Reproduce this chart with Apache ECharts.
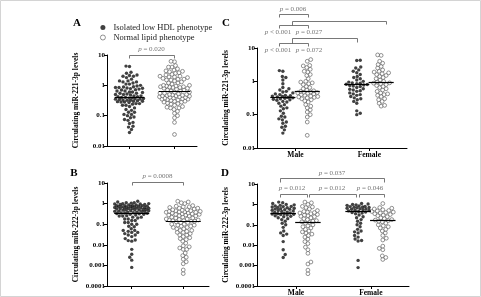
<!DOCTYPE html>
<html>
<head>
<meta charset="utf-8">
<script src="https://cdn.jsdelivr.net/npm/echarts@6/dist/echarts.min.js"></script>
<style>
  html, body { margin: 0; padding: 0; background: #fff; }
  #main { width: 481px; height: 297px; }
</style>
</head>
<body>
<div id="main"></div>
<script>
// circulating miR levels (one value per subject)
const male221Low = [2.1, 2.0, 1.4, 1.3, 1.1, 0.85, 0.65, 0.6, 0.55, 0.5, 0.48, 0.45, 0.42, 0.4, 0.38, 0.37, 0.36, 0.35, 0.34, 0.33, 0.32, 0.31, 0.3, 0.29, 0.28, 0.27, 0.25, 0.24, 0.22, 0.2, 0.18, 0.16, 0.15, 0.13, 0.11, 0.09, 0.085, 0.075, 0.07, 0.06, 0.055, 0.045, 0.042, 0.035, 0.028]
const male221Norm = [4.5, 4.0, 3.0, 2.9, 2.6, 2.3, 2.0, 1.9, 1.6, 1.5, 1.2, 1.0, 0.95, 0.9, 0.85, 0.8, 0.7, 0.65, 0.6, 0.55, 0.52, 0.5, 0.48, 0.47, 0.46, 0.45, 0.44, 0.42, 0.4, 0.38, 0.36, 0.35, 0.34, 0.33, 0.32, 0.3, 0.28, 0.26, 0.24, 0.2, 0.18, 0.16, 0.14, 0.12, 0.1, 0.085, 0.06, 0.024]
const female221Low = [4.3, 4.2, 2.7, 2.5, 2.2, 2.0, 1.8, 1.6, 1.4, 1.3, 1.2, 1.1, 1.0, 0.95, 0.9, 0.88, 0.85, 0.82, 0.8, 0.78, 0.75, 0.72, 0.7, 0.65, 0.6, 0.58, 0.55, 0.52, 0.5, 0.45, 0.42, 0.4, 0.38, 0.35, 0.32, 0.3, 0.28, 0.25, 0.22, 0.13, 0.11, 0.1]
const female221Norm = [6.2, 6.0, 4.0, 3.5, 3.2, 2.8, 2.5, 2.2, 2.0, 1.9, 1.8, 1.7, 1.6, 1.5, 1.4, 1.3, 1.2, 1.1, 1.0, 0.95, 0.9, 0.88, 0.85, 0.8, 0.75, 0.7, 0.65, 0.6, 0.55, 0.5, 0.45, 0.42, 0.4, 0.38, 0.35, 0.3, 0.28, 0.25, 0.22, 0.19, 0.18]

const male222Low = [1.3, 1.2, 1.1, 1.0, 0.95, 0.9, 0.85, 0.8, 0.78, 0.75, 0.7, 0.68, 0.65, 0.62, 0.6, 0.58, 0.55, 0.52, 0.5, 0.48, 0.45, 0.42, 0.4, 0.38, 0.36, 0.35, 0.34, 0.33, 0.32, 0.3, 0.28, 0.26, 0.25, 0.22, 0.2, 0.18, 0.15, 0.12, 0.1, 0.075, 0.05, 0.04, 0.035, 0.03, 0.015, 0.006, 0.0035, 0.0025]
const male222Norm = [1.3, 1.2, 1.0, 0.8, 0.75, 0.7, 0.6, 0.5, 0.45, 0.42, 0.4, 0.38, 0.35, 0.32, 0.3, 0.28, 0.26, 0.25, 0.22, 0.2, 0.18, 0.16, 0.15, 0.14, 0.13, 0.12, 0.1, 0.09, 0.08, 0.07, 0.06, 0.05, 0.045, 0.04, 0.035, 0.03, 0.025, 0.02, 0.015, 0.012, 0.008, 0.006, 0.004, 0.0015, 0.0012, 0.0006, 0.0004]
const female222Low = [1.1, 1.05, 1.0, 0.95, 0.9, 0.85, 0.8, 0.78, 0.75, 0.72, 0.7, 0.68, 0.65, 0.62, 0.6, 0.58, 0.55, 0.52, 0.5, 0.48, 0.45, 0.42, 0.4, 0.38, 0.35, 0.3, 0.25, 0.22, 0.18, 0.15, 0.12, 0.1, 0.08, 0.06, 0.05, 0.045, 0.04, 0.03, 0.025, 0.02, 0.017, 0.016, 0.0018, 0.0008]
const female222Norm = [1.1, 0.7, 0.65, 0.6, 0.55, 0.5, 0.48, 0.45, 0.42, 0.4, 0.38, 0.35, 0.32, 0.3, 0.28, 0.25, 0.22, 0.2, 0.18, 0.17, 0.16, 0.15, 0.14, 0.12, 0.1, 0.09, 0.08, 0.07, 0.06, 0.05, 0.04, 0.03, 0.022, 0.018, 0.009, 0.007, 0.006, 0.003, 0.0025, 0.002]

// horizontal bars (group medians) as drawn: [low HDL, normal lipid]
const med221All = [0.39, 0.62]
const med222All = [0.355, 0.145]
const med221Male = [0.33, 0.49]
const med221Female = [0.83, 0.93]
const med222Male = [0.355, 0.14]
const med222Female = [0.48, 0.16]

const seriesNames = ['Isolated low HDL phenotype', 'Normal lipid phenotype']
const sexLabels = ['Male', 'Female']
const yName221 = 'Circulating miR-221-3p levels'
const yName222 = 'Circulating miR-222-3p levels'

// panels A/B pool both sexes
const all221Low = male221Low.concat(female221Low)
const all221Norm = male221Norm.concat(female221Norm)
const all222Low = male222Low.concat(female222Low)
const all222Norm = male222Norm.concat(female222Norm)

const SERIF = '"Liberation Serif", "DejaVu Serif", serif'
const DOT = 3.4      // symbol size
const GAP = 3.5      // wanted distance between dot centres, px

const filledStyle = { color: '#111' }
const openStyle = { color: '#fff', borderColor: '#555', borderWidth: 0.8 }

const chart = echarts.init(document.getElementById('main'))

const xAxis = (gridIndex, min, max, labels) => ({
  type: 'value', gridIndex, min, max,
  axisLine: { lineStyle: { color: '#000', width: 1 } },
  axisTick: { customValues: [1, 2], length: 3, lineStyle: { color: '#000' } },
  axisLabel: labels ? {
    customValues: [1, 2], margin: 3,
    fontFamily: SERIF, fontWeight: 'bold', fontSize: 7.5, color: '#000',
    formatter: v => labels[Math.round(v) - 1] || ''
  } : { show: false },
  splitLine: { show: false }
})

const yAxis = (gridIndex, min, name) => ({
  type: 'log', logBase: 10, gridIndex, min, max: 10,
  name, nameLocation: 'middle', nameGap: 27,
  nameTextStyle: { fontFamily: SERIF, fontWeight: 'bold', fontSize: 7.5, color: '#000' },
  axisLine: { show: true, lineStyle: { color: '#000', width: 1 } },
  axisTick: { show: true, length: 3, lineStyle: { color: '#000' } },
  axisLabel: {
    margin: 2, fontFamily: SERIF, fontWeight: 'bold', fontSize: 7, color: '#000',
    formatter: v => String(+(+v).toPrecision(2))
  },
  splitLine: { show: false }
})

// p-value annotations
const pText = (x, y, rest) => ({
  type: 'text', x, y, silent: true,
  style: {
    text: '{i|p} ' + rest, align: 'center', verticalAlign: 'middle',
    fontFamily: SERIF, fontSize: 7, fill: '#777',
    rich: { i: { fontStyle: 'italic', fontFamily: SERIF, fontSize: 7, fill: '#777' } }
  }
})
const poly = pts => ({
  type: 'polyline', silent: true,
  shape: { points: pts.map(p => [Math.round(p[0]) + 0.5, Math.round(p[1]) + 0.5]) },
  style: { stroke: '#555', lineWidth: 0.8, fill: null }
})
const bracket = (x1, x2, y, drop) => poly([[x1, y + drop], [x1, y], [x2, y], [x2, y + drop]])
const letter = (x, y, t) => ({
  type: 'text', x, y, silent: true,
  style: { text: t, align: 'center', verticalAlign: 'middle', font: 'bold 11px ' + SERIF, fill: '#000' }
})

const graphic = [
  { type: 'rect', silent: true, shape: { x: 0.5, y: 0.5, width: 480, height: 296 }, style: { fill: null, stroke: '#d4d4d4' } },
  letter(77, 23, 'A'), letter(226, 23, 'C'), letter(74, 173, 'B'), letter(225, 173, 'D'),
  // A
  bracket(129, 174, 55, 3), pText(151.5, 49, '= 0.020'),
  // B
  bracket(132, 183, 182, 3), pText(157.5, 176.5, '= 0.0008'),
  // C
  bracket(279, 308, 14, 3), pText(293, 9, '= 0.006'),
  bracket(279, 308, 25, 3), poly([[292, 25], [292, 21], [386, 21], [386, 24]]),
  pText(278, 32, '< 0.001'), pText(309, 32, '= 0.027'),
  bracket(279, 308, 43, 3), poly([[292, 43], [292, 38], [357, 38], [357, 42]]),
  pText(278, 50, '< 0.001'), pText(309, 50, '= 0.072'),
  // D
  bracket(280, 384, 178, 4), pText(332, 173, '= 0.037'),
  bracket(280, 307, 194, 3), bracket(309, 356, 194, 3), bracket(359, 384, 194, 3),
  pText(292, 188, '= 0.012'), pText(332, 188, '= 0.012'), pText(370, 188, '= 0.046')
]

chart.setOption({
  animation: false,
  backgroundColor: '#fff',
  grid: [
    { left: 107, top: 55, width: 90, height: 91 },
    { left: 107, top: 183, width: 102, height: 103 },
    { left: 257, top: 48, width: 150, height: 100 },
    { left: 257, top: 184, width: 152, height: 103 }
  ],
  xAxis: [
    xAxis(0, 0.5, 2.5, null),
    xAxis(1, 0.52, 2.5, null),
    xAxis(2, 0.48, 2.51, sexLabels),
    xAxis(3, 0.48, 2.51, sexLabels)
  ],
  yAxis: [
    yAxis(0, 0.01, yName221),
    yAxis(1, 0.0001, yName222),
    yAxis(2, 0.01, yName221),
    yAxis(3, 0.0001, yName222)
  ],
  legend: {
    orient: 'vertical', left: 100, top: 23, padding: 0,
    itemWidth: 5, itemHeight: 5, itemGap: 1,
    icon: 'circle', selectedMode: false,
    textStyle: { fontFamily: SERIF, fontSize: 8.5, color: '#222', lineHeight: 9, padding: [0, 0, 0, 3] },
    data: [
      { name: seriesNames[0], itemStyle: filledStyle },
      { name: seriesNames[1], itemStyle: openStyle }
    ]
  },
  graphic,
  series: []
})

// beeswarm: spread dots sideways, inside a maximum half width (pixel space)
function swarm(grid, center, values, cap) {
  const placed = []
  const cx = chart.convertToPixel({ gridIndex: grid }, [center, 1])[0]
  const pts = values
    .map(v => ({ v, y: chart.convertToPixel({ gridIndex: grid }, [center, v])[1] }))
    .sort((a, b) => b.y - a.y)
  return pts.map((p, i) => {
    let x = cx, bestD = -1
    for (let k = 0; ; k++) {
      const off = (k % 2 ? -1 : 1) * Math.ceil(k / 2) * 0.5 * (i % 2 ? -1 : 1)
      if (Math.abs(off) > cap) break
      const cand = cx + off
      let md = Infinity
      placed.forEach(q => { md = Math.min(md, Math.hypot(q.x - cand, q.y - p.y)) })
      if (md >= GAP) { x = cand; break }
      if (md > bestD + 0.05) { bestD = md; x = cand }
    }
    placed.push({ x, y: p.y })
    return [chart.convertFromPixel({ gridIndex: grid }, [x, p.y])[0], p.v]
  })
}

const medianLine = (center, half, value) => ({
  silent: true, symbol: 'none', animation: false,
  label: { show: false },
  lineStyle: { color: '#000', width: 1.2, type: 'solid' },
  data: [[{ coord: [center - half, value] }, { coord: [center + half, value] }]]
})

const group = (grid, center, values, open, med, half, cap) => ({
  name: seriesNames[open ? 1 : 0],
  type: 'scatter',
  xAxisIndex: grid, yAxisIndex: grid,
  symbol: 'circle', symbolSize: open ? DOT + 0.4 : DOT,
  itemStyle: open ? openStyle : filledStyle,
  silent: true,
  data: swarm(grid, center, values, cap),
  markLine: medianLine(center, half, med),
  z: open ? 2 : 3
})

chart.setOption({
  series: [
    group(0, 1, all221Low, false, med221All[0], 0.33, 14),
    group(0, 2, all221Norm, true, med221All[1], 0.35, 15),
    group(1, 1, all222Low, false, med222All[0], 0.34, 17),
    group(1, 2, all222Norm, true, med222All[1], 0.34, 17),
    group(2, 0.83, male221Low, false, med221Male[0], 0.17, 10.5),
    group(2, 1.16, male221Norm, true, med221Male[1], 0.17, 10.5),
    group(2, 1.83, female221Low, false, med221Female[0], 0.17, 10.5),
    group(2, 2.16, female221Norm, true, med221Female[1], 0.17, 10.5),
    group(3, 0.83, male222Low, false, med222Male[0], 0.17, 11),
    group(3, 1.16, male222Norm, true, med222Male[1], 0.17, 11),
    group(3, 1.83, female222Low, false, med222Female[0], 0.17, 11),
    group(3, 2.16, female222Norm, true, med222Female[1], 0.17, 11)
  ]
})
</script>
</body>
</html>
